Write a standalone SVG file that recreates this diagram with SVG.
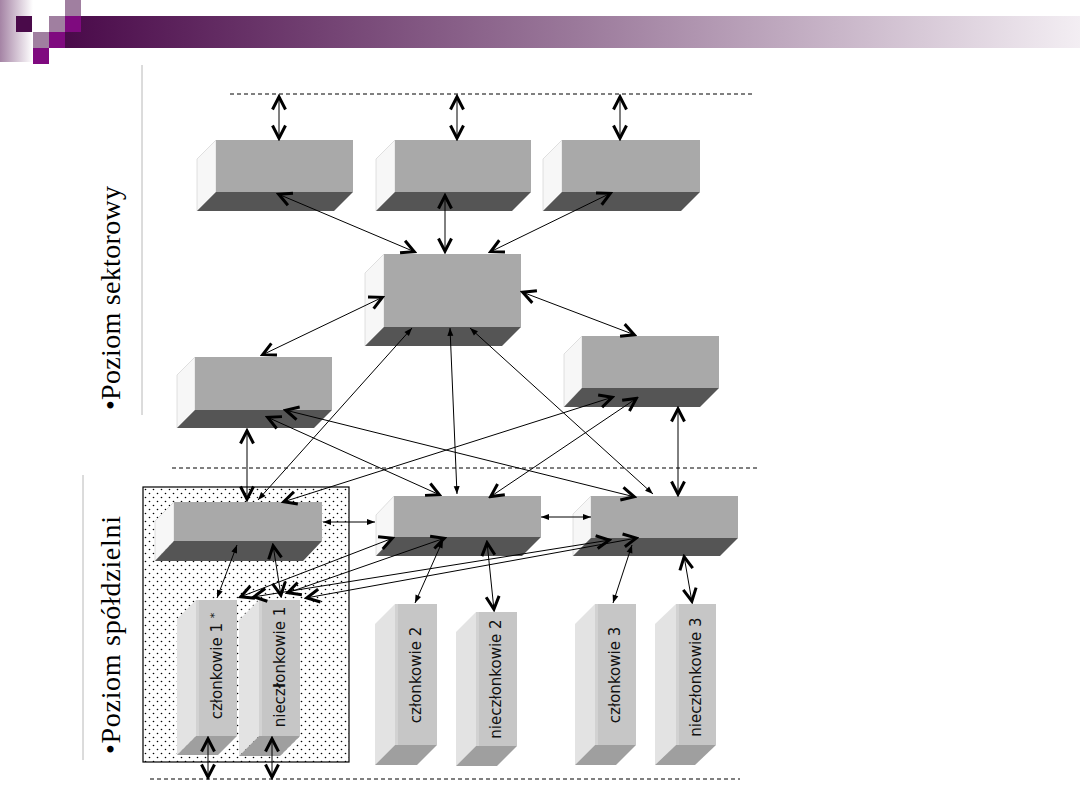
<svg xmlns="http://www.w3.org/2000/svg" width="1080" height="810" viewBox="0 0 1080 810">
<defs>
<linearGradient id="band" x1="65" y1="0" x2="1080" y2="0" gradientUnits="userSpaceOnUse">
<stop offset="0" stop-color="#4a0a4a"/>
<stop offset="0.5" stop-color="#9a789a"/>
<stop offset="1" stop-color="#f3eef3"/>
</linearGradient>
<linearGradient id="strip" x1="0" y1="0" x2="1" y2="0">
<stop offset="0" stop-color="#a584a5"/>
<stop offset="1" stop-color="#ffffff"/>
</linearGradient>
<pattern id="dots" x="0" y="0" width="8" height="8" patternUnits="userSpaceOnUse">
<rect width="8" height="8" fill="#ffffff"/>
<circle cx="1.5" cy="1.5" r="0.8" fill="#000"/>
<circle cx="5.5" cy="5.5" r="0.8" fill="#000"/>
</pattern>
<marker id="chev" viewBox="-17 -9 19 18" markerWidth="19" markerHeight="18" refX="0" refY="0" orient="auto-start-reverse" markerUnits="userSpaceOnUse">
<path d="M-13.5,-6.5 L-0.8,0 L-13.5,6.5" fill="none" stroke="#000" stroke-width="3"/>
</marker>
<marker id="tri" viewBox="-9 -4 10 8" markerWidth="10" markerHeight="8" refX="0" refY="0" orient="auto-start-reverse" markerUnits="userSpaceOnUse">
<path d="M-8,-3 L0,0 L-8,3 Z" fill="#000"/>
</marker>
</defs>
<style>
.front{fill:#a9a9a9}
.bottom{fill:#555555}
.side{fill:#f7f7f7;stroke:#d8d8d8;stroke-width:0.8}
.mfront{fill:#c6c6c6}
.mstrip{fill:#d2d2d2}
.mside{fill:#e3e3e3}
.mbottom{fill:#9f9f9f}
.mlabel{font-family:"DejaVu Sans",sans-serif;font-size:15px;fill:#111;text-anchor:middle}
.level{font-family:"Liberation Serif",serif;font-size:28px;fill:#000}
.dash{stroke:#000;stroke-width:1;stroke-dasharray:4 3;fill:none}
.vline{stroke:#b8b8b8;stroke-width:1}
.c{stroke:#000;stroke-width:1;fill:none;marker-start:url(#chev);marker-end:url(#chev)}
.t{stroke:#000;stroke-width:1;fill:none;marker-start:url(#tri);marker-end:url(#tri)}
</style>
<rect width="1080" height="810" fill="#ffffff"/>
<g id="header">
<rect x="0" y="0" width="33" height="62" fill="url(#strip)"/>
<rect x="65" y="16" width="1015" height="32" fill="url(#band)"/>
<rect x="16" y="16" width="16" height="16" fill="#4a0a4a"/>
<rect x="65" y="0" width="16" height="16" fill="#a07fa0"/>
<rect x="49" y="16" width="16" height="16" fill="#a07fa0"/>
<rect x="65" y="16" width="16" height="16" fill="#7f0a7f"/>
<rect x="33" y="32" width="16" height="16" fill="#a07fa0"/>
<rect x="49" y="32" width="16" height="16" fill="#7f0a7f"/>
<rect x="33" y="48" width="16" height="16" fill="#7f0a7f"/>
</g>
<g id="guides">
<line class="vline" x1="142" y1="65" x2="142" y2="415"/>
<line class="vline" x1="83" y1="475" x2="83" y2="760"/>
<line class="dash" x1="230" y1="94" x2="752" y2="94"/>
<line class="dash" x1="172" y1="468" x2="760" y2="468"/>
<line class="dash" x1="150" y1="779" x2="740" y2="779"/>
</g>
<g id="labels">
<text class="level" transform="translate(120,410) rotate(-90)" textLength="224" lengthAdjust="spacing">•Poziom sektorowy</text>
<text class="level" transform="translate(120,754) rotate(-90)" textLength="238" lengthAdjust="spacing">•Poziom spółdzielni</text>
</g>
<g id="coop1-area">
<rect x="143" y="487" width="206" height="275" fill="url(#dots)" stroke="#000" stroke-width="1.2"/>
</g>
<g id="A1">
<polygon class="side" points="216,140 216,192 197,211 197,159"/>
<polygon class="bottom" points="216,192 353,192 334,211 197,211"/>
<rect class="front" x="216" y="140" width="137" height="52"/>
</g>
<g id="A2">
<polygon class="side" points="395,140 395,192 376,211 376,159"/>
<polygon class="bottom" points="395,192 531,192 512,211 376,211"/>
<rect class="front" x="395" y="140" width="136" height="52"/>
</g>
<g id="A3">
<polygon class="side" points="562,140 562,192 543,211 543,159"/>
<polygon class="bottom" points="562,192 700,192 681,211 543,211"/>
<rect class="front" x="562" y="140" width="138" height="52"/>
</g>
<g id="B">
<polygon class="side" points="384,254 384,327 365,346 365,273"/>
<polygon class="bottom" points="384,327 521,327 502,346 365,346"/>
<rect class="front" x="384" y="254" width="137" height="73"/>
</g>
<g id="C">
<polygon class="side" points="195,357 195,410 177,428 177,375"/>
<polygon class="bottom" points="195,410 332,410 314,428 177,428"/>
<rect class="front" x="195" y="357" width="137" height="53"/>
</g>
<g id="D">
<polygon class="side" points="582,336 582,388 564,407 564,354"/>
<polygon class="bottom" points="582,388 719,388 700,407 564,407"/>
<rect class="front" x="582" y="336" width="137" height="52"/>
</g>
<g id="E1">
<polygon class="side" points="174,502 174,541 155,561 155,521"/>
<polygon class="bottom" points="174,541 322,541 303,561 155,561"/>
<rect class="front" x="174" y="502" width="148" height="39"/>
</g>
<g id="E2">
<polygon class="side" points="394,496 394,537 376,556 376,515"/>
<polygon class="bottom" points="394,537 541,537 522,556 376,556"/>
<rect class="front" x="394" y="496" width="147" height="41"/>
</g>
<g id="E3">
<polygon class="side" points="591,496 591,538 573,556 573,514"/>
<polygon class="bottom" points="591,538 738,538 720,556 573,556"/>
<rect class="front" x="591" y="496" width="147" height="42"/>
</g>
<g id="czlonkowie1">
<polygon class="mside" points="196,600 196,736 177,755 177,619"/>
<polygon class="mbottom" points="196,736 237,736 218,755 177,755"/>
<rect class="mfront" x="196" y="600" width="41" height="136"/>
<rect class="mstrip" x="196" y="600" width="3" height="136"/>
<text class="mlabel" transform="translate(222,666) rotate(-90)">członkowie 1 <tspan font-size="11" dy="-4">*</tspan></text>
</g>
<g id="nieczlonkowie1">
<polygon class="mside" points="259,600 259,736 239,756 239,620"/>
<polygon class="mbottom" points="259,736 300,736 280,756 239,756"/>
<rect class="mfront" x="259" y="600" width="41" height="136"/>
<rect class="mstrip" x="259" y="600" width="3" height="136"/>
<text class="mlabel" transform="translate(285,667) rotate(-90)">niecz<tspan font-weight="bold">ł</tspan>onkowie 1</text>
</g>
<g id="czlonkowie2">
<polygon class="mside" points="395,604 395,745 375,765 375,624"/>
<polygon class="mbottom" points="395,745 437,745 417,765 375,765"/>
<rect class="mfront" x="395" y="604" width="42" height="141"/>
<rect class="mstrip" x="395" y="604" width="3" height="141"/>
<text class="mlabel" transform="translate(421,675) rotate(-90)">członkowie 2</text>
</g>
<g id="nieczlonkowie2">
<polygon class="mside" points="476,612 476,746 456,766 456,632"/>
<polygon class="mbottom" points="476,746 517,746 497,766 456,766"/>
<rect class="mfront" x="476" y="612" width="41" height="134"/>
<rect class="mstrip" x="476" y="612" width="3" height="134"/>
<text class="mlabel" transform="translate(501,679) rotate(-90)">nieczłonkowie 2</text>
</g>
<g id="czlonkowie3">
<polygon class="mside" points="595,604 595,745 575,765 575,624"/>
<polygon class="mbottom" points="595,745 636,745 616,765 575,765"/>
<rect class="mfront" x="595" y="604" width="41" height="141"/>
<rect class="mstrip" x="595" y="604" width="3" height="141"/>
<text class="mlabel" transform="translate(620,675) rotate(-90)">członkowie 3</text>
</g>
<g id="nieczlonkowie3">
<polygon class="mside" points="676,604 676,745 655,765 655,624"/>
<polygon class="mbottom" points="676,745 716,745 695,765 655,765"/>
<rect class="mfront" x="676" y="604" width="40" height="141"/>
<rect class="mstrip" x="676" y="604" width="3" height="141"/>
<text class="mlabel" transform="translate(701,677) rotate(-90)">nieczłonkowie 3</text>
</g>
<g id="connectors">
<line class="c" x1="279" y1="96" x2="279" y2="139"/>
<line class="c" x1="457" y1="96" x2="457" y2="139"/>
<line class="c" x1="620" y1="96" x2="620" y2="139"/>
<line class="c" x1="278" y1="194" x2="415" y2="252"/>
<line class="c" x1="445" y1="195" x2="445" y2="252"/>
<line class="c" x1="611" y1="193" x2="490" y2="252"/>
<line class="c" x1="383" y1="297" x2="262" y2="355"/>
<line class="c" x1="522" y1="292" x2="635" y2="335"/>
<line class="t" x1="412" y1="328" x2="258" y2="500"/>
<line class="t" x1="450" y1="328" x2="457" y2="494"/>
<line class="t" x1="470" y1="328" x2="653" y2="494"/>
<line class="c" x1="247" y1="430" x2="247" y2="500"/>
<line class="c" x1="267" y1="417" x2="440" y2="495"/>
<line class="c" x1="285" y1="410" x2="635" y2="497"/>
<line class="c" x1="613" y1="397" x2="283" y2="502"/>
<line class="c" x1="637" y1="398" x2="490" y2="497"/>
<line class="c" x1="678" y1="408" x2="678" y2="495"/>
<line class="t" x1="323" y1="522" x2="375" y2="522"/>
<line class="t" x1="541" y1="517" x2="591" y2="517"/>
<line class="t" x1="237" y1="545" x2="217" y2="598"/>
<line class="c" x1="273" y1="545" x2="281" y2="596"/>
<line class="c" x1="240" y1="597" x2="393" y2="538"/>
<line class="c" x1="287" y1="593" x2="445" y2="538"/>
<line class="c" x1="253" y1="597" x2="610" y2="540"/>
<line class="c" x1="306" y1="598" x2="637" y2="538"/>
<line class="t" x1="443" y1="540" x2="415" y2="603"/>
<line class="c" x1="487" y1="542" x2="494" y2="610"/>
<line class="t" x1="632" y1="545" x2="613" y2="603"/>
<line class="c" x1="684" y1="556" x2="692" y2="602"/>
<line class="c" x1="208" y1="738" x2="208" y2="778"/>
<line class="c" x1="272" y1="738" x2="272" y2="778"/>
</g>
</svg>
